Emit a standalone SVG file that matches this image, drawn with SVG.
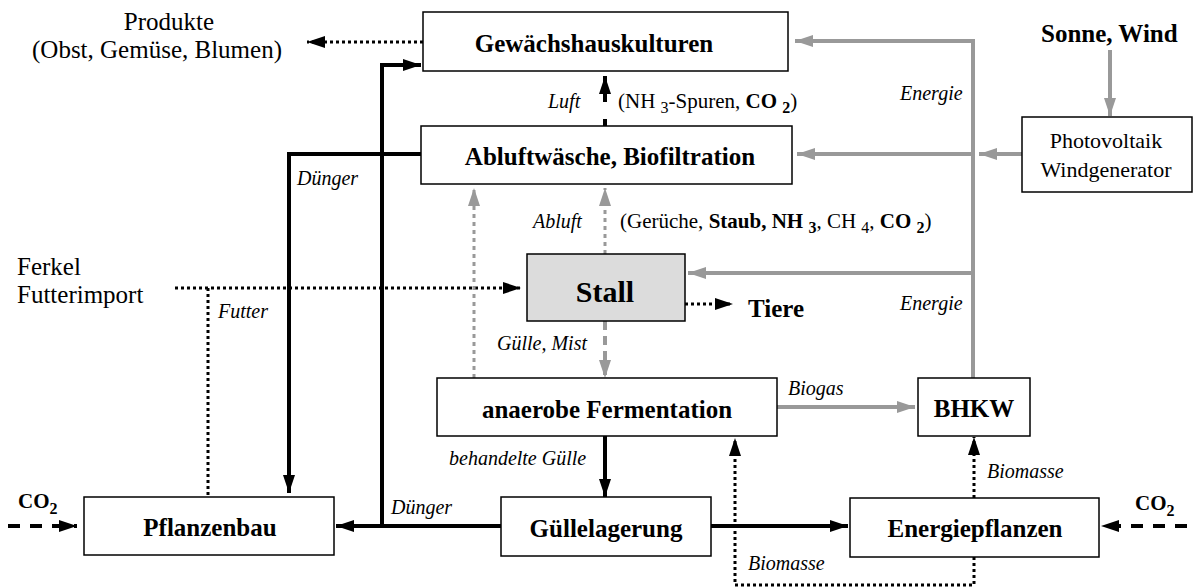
<svg xmlns="http://www.w3.org/2000/svg" width="1193" height="587" viewBox="0 0 1193 587" font-family="'Liberation Serif', 'Times New Roman', Times, serif">
<style>
.box{fill:#fff;stroke:#000;stroke-width:1.5}
.lbl{font-weight:bold;font-size:25px;text-anchor:middle}
.it{font-style:italic;font-size:20px}
.n25{font-size:25px}
.blk{fill:none;stroke:#000;stroke-width:4}
.dot{fill:none;stroke:#000;stroke-width:3;stroke-dasharray:3 3}
.dash{fill:none;stroke:#000;stroke-width:4;stroke-dasharray:12 10}
.gry{fill:none;stroke:#999;stroke-width:4}
.gdot{fill:none;stroke:#999;stroke-width:3;stroke-dasharray:4 4}
.gdash{fill:none;stroke:#999;stroke-width:4;stroke-dasharray:9 6}
</style>
<defs>
<marker id="ab" markerUnits="userSpaceOnUse" markerWidth="18" markerHeight="12" refX="18" refY="6" orient="auto"><path d="M0,0 L18,6 L0,12 z" fill="#000"/></marker>
<marker id="ag" markerUnits="userSpaceOnUse" markerWidth="18" markerHeight="12" refX="18" refY="6" orient="auto"><path d="M0,0 L18,6 L0,12 z" fill="#999"/></marker>
</defs>

<g id="connectors">
<path class="dot" d="M423,42 H307" marker-end="url(#ab)"/>
<path class="blk" d="M382,526 V65 H421" marker-end="url(#ab)"/>
<path class="blk" d="M421,154 H289 V493" marker-end="url(#ab)"/>
<path class="dot" d="M175,288 H521" marker-end="url(#ab)"/>
<path class="dot" d="M208,288 V497"/>
<path class="blk" d="M605,126 V119"/>
<path class="blk" d="M605,102 V76" marker-end="url(#ab)"/>
<path class="gdot" d="M605,254 V188" marker-end="url(#ag)"/>
<path class="gdot" d="M474,378 V188" marker-end="url(#ag)"/>
<path class="gdash" d="M605,321 V378" marker-end="url(#ag)"/>
<path class="blk" d="M605,436 V497" marker-end="url(#ab)"/>
<path class="blk" d="M501,526 H336" marker-end="url(#ab)"/>
<path class="blk" d="M711,526 H848" marker-end="url(#ab)"/>
<path class="dash" d="M8,526 H77" marker-end="url(#ab)"/>
<path class="dash" d="M1187,526 H1101" marker-end="url(#ab)"/>
<path class="dot" d="M974,498 V437" marker-end="url(#ab)"/>
<path class="dot" d="M974,557 V585 H735 V438" marker-end="url(#ab)"/>
<path class="gry" d="M777,407 H915" marker-end="url(#ag)"/>
<path class="gry" d="M973,378 V41 H795" marker-end="url(#ag)"/>
<path class="gry" d="M973,273 H688" marker-end="url(#ag)"/>
<path class="gry" d="M973,154 H797" marker-end="url(#ag)"/>
<path class="gry" d="M1022,154 H979" marker-end="url(#ag)"/>
<path class="gry" d="M1110,50 V116" marker-end="url(#ag)"/>
<path class="dot" d="M685,304 H733" marker-end="url(#ab)"/>
</g>

<g id="labels">
<text class="n25" x="169" y="30" text-anchor="middle">Produkte</text>
<text class="n25" x="157" y="58" text-anchor="middle">(Obst, Gemüse, Blumen)</text>
<text class="n25" x="17" y="275">Ferkel</text>
<text class="n25" x="17" y="303">Futterimport</text>
<text class="it" x="218" y="318">Futter</text>
<text class="it" x="297" y="185">Dünger</text>
<text class="it" x="391" y="514">Dünger</text>
<text class="it" x="548" y="108">Luft</text>
<text x="618" y="108" font-size="21">(NH <tspan font-size="16" dy="5">3</tspan><tspan dy="-5">-Spuren, </tspan><tspan font-weight="bold">CO <tspan font-size="16" dy="5">2</tspan></tspan><tspan dy="-5">)</tspan></text>
<text class="it" x="533" y="228">Abluft</text>
<text x="620" y="228" font-size="21">(Gerüche, <tspan font-weight="bold">Staub, NH <tspan font-size="16" dy="5">3</tspan></tspan><tspan dy="-5">, CH </tspan><tspan font-size="16" dy="5">4</tspan><tspan dy="-5">, </tspan><tspan font-weight="bold">CO <tspan font-size="16" dy="5">2</tspan></tspan><tspan dy="-5">)</tspan></text>
<text class="it" x="497" y="350">Gülle, Mist</text>
<text class="it" x="900" y="100">Energie</text>
<text class="it" x="900" y="310">Energie</text>
<text class="it" x="788" y="395">Biogas</text>
<text class="it" x="449" y="465">behandelte Gülle</text>
<text class="it" x="987" y="478">Biomasse</text>
<text class="it" x="748" y="570">Biomasse</text>
<text x="1041" y="42" font-size="25" font-weight="bold">Sonne, Wind</text>
<text x="748" y="317" font-size="25" font-weight="bold">Tiere</text>
<text x="18" y="508" font-size="21" font-weight="bold">CO<tspan font-size="16" dy="6">2</tspan></text>
<text x="1135" y="510" font-size="21" font-weight="bold">CO<tspan font-size="16" dy="6">2</tspan></text>
</g>

<g id="gewaechshaus"><rect class="box" x="423" y="12" width="365" height="59"/><text class="lbl" x="594" y="52">Gewächshauskulturen</text></g>
<g id="abluftwaesche"><rect class="box" x="421" y="126" width="371" height="58"/><text class="lbl" x="610" y="165">Abluftwäsche, Biofiltration</text></g>
<g id="photovoltaik"><rect class="box" x="1022" y="117" width="170" height="75"/><text x="1106" y="148" font-size="22" text-anchor="middle">Photovoltaik</text><text x="1106" y="177" font-size="22" text-anchor="middle">Windgenerator</text></g>
<g id="stall"><rect x="527" y="254" width="158" height="67" fill="#dcdcdc" stroke="#000" stroke-width="1.5"/><text x="605" y="302" font-size="30" font-weight="bold" text-anchor="middle">Stall</text></g>
<g id="fermentation"><rect class="box" x="437" y="378" width="340" height="58"/><text class="lbl" x="607" y="418">anaerobe Fermentation</text></g>
<g id="bhkw"><rect class="box" x="918" y="378" width="112" height="58"/><text class="lbl" x="974" y="417">BHKW</text></g>
<g id="pflanzenbau"><rect class="box" x="84" y="497" width="250" height="58"/><text class="lbl" x="210" y="536">Pflanzenbau</text></g>
<g id="guellelagerung"><rect class="box" x="501" y="497" width="210" height="59"/><text class="lbl" x="606" y="537">Güllelagerung</text></g>
<g id="energiepflanzen"><rect class="box" x="850" y="498" width="249" height="59"/><text class="lbl" x="975" y="537">Energiepflanzen</text></g>
</svg>
